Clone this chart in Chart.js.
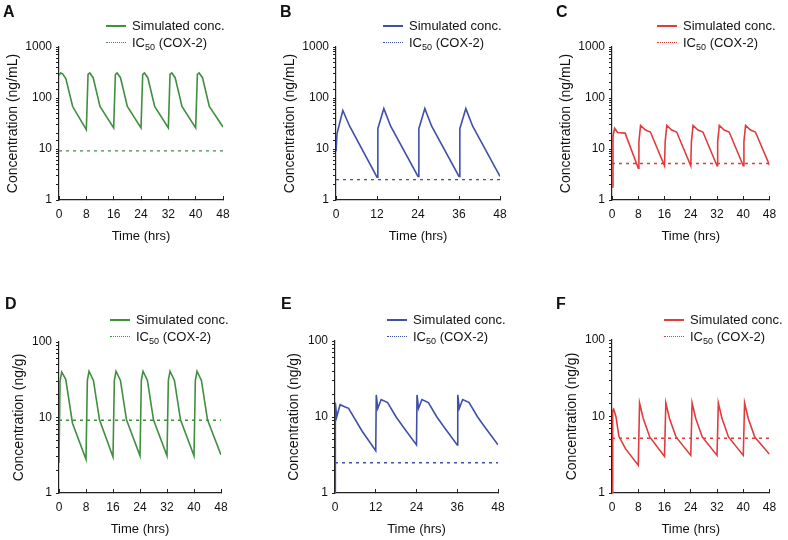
<!DOCTYPE html>
<html>
<head>
<meta charset="utf-8">
<script src="https://cdn.jsdelivr.net/npm/chart.js@4.4.1/dist/chart.umd.min.js"></script>
<style>
  html, body { margin: 0; padding: 0; background: #fff; }
  body { width: 788px; height: 540px; position: relative; overflow: hidden;
         font-family: "Liberation Sans", Arial, sans-serif; color: #111; }
  .panel { position: absolute; }
  .letter { position: absolute; font-weight: bold; font-size: 16px; line-height: 16px; }
  .leg { position: absolute; font-size: 13px; line-height: 16px; height: 16px; white-space: nowrap; }
  .leg .s { display: inline-block; width: 20px; height: 0; vertical-align: middle; margin-right: 6px; position: relative; top: -1px; }
  .leg sub { font-size: 9px; vertical-align: -3px; line-height: 0; }
</style>
</head>
<body>
<script>
// ---------------- data ----------------
const GREEN = '#3f8f3f', BLUE = '#4050a8', RED = '#e03c3c';

// Panel A (plasma, ng/mL, q8h)
const timeA = [0,0.5,1,2,4,8,8.5,9,10,12,16,16.5,17,18,20,24,24.5,25,26,28,32,32.5,33,34,36,40,40.5,41,42,44,48];
const concA = [280,310,300,240,68,24,290,310,250,68,26,290,310,250,68,26,290,310,250,68,26,290,310,250,68,26,290,310,250,68,27];
const ic50A = 9.2;

// Panel B (plasma, ng/mL, q12h)
const timeB = [0,0.3,2,4,12,12.25,14,16,24,24.25,26,28,36,36.25,38,40,48];
const concB = [9,20,57,28,2.8,25,62,28,2.9,25,62,28,2.9,25,62,28,2.9];
const ic50B = 2.5;

// Panel C (plasma, ng/mL, q8h)
const timeC = [0,0.3,0.8,1.7,4,8,8.2,8.7,10.2,11.7,16,16.2,16.7,18.2,19.7,24,24.2,24.7,26.2,27.7,32,32.2,32.7,34.2,35.7,40,40.2,40.7,42.2,43.7,48];
const concC = [1.8,18,25.5,21,20.5,4.2,14,29,23.5,21.5,4.7,14,29,23.5,21.5,4.7,14,29,23.5,21.5,4.7,14,29,23.5,21.5,4.7,14,29,23.5,21.5,4.8];
const ic50C = 5.2;

// Panel D (tissue, ng/g, q8h)
const timeD = [0,0.3,0.8,2,4,8,8.4,8.9,10.2,12,16,16.4,16.9,18.2,20,24,24.4,24.9,26.2,28,32,32.4,32.9,34.2,36,40,40.4,40.9,42.2,44,48];
const concD = [2.5,30,40,32,8.4,2.8,31,41,31,9.3,3.0,31,41,31,9.3,3.1,31,41,31,9.3,3.1,31,41,31,9.3,3.1,31,41,31,9.3,3.2];
const ic50D = 9.2;

// Panel E (tissue, ng/g, q12h)
const timeE = [0,0.1,0.5,1.5,3,4,8,12,12.15,12.6,13.6,15.5,18,20,24,24.15,24.6,25.6,27.5,30,32,36,36.15,36.6,37.6,39.5,42,44,48];
const concE = [1,15.5,10,14.5,13.5,13,6.5,3.6,19.5,13,17,15.5,10,7.5,4.3,19.5,13,17,15.5,10,7.5,4.3,19.5,13,17,15.5,10,7.5,4.3];
const ic50E = 2.5;

// Panel F (tissue, ng/g, q8h)
const timeF = [0,0.2,0.5,1.2,2.1,4.1,8,8.4,9.5,11.5,16,16.4,17.5,19.5,24,24.4,25.5,27.5,32,32.4,33.5,35.5,40,40.4,41.5,43.5,48];
const concF = [1,12,12.5,10,5.5,3.8,2.3,15,9.5,5.4,3.0,15,9.5,5.4,3.1,15,9.5,5.4,3.1,15,9.5,5.4,3.1,15,9.5,5.4,3.2];
const ic50F = 5.2;

const xTicksQ8 = [0,8,16,24,32,40,48];
const xTicksQ12 = [0,12,24,36,48];
const yTitlePlasma = 'Concentration (ng/mL)';
const yTitleTissue = 'Concentration (ng/g)';
const xTitle = 'Time (hrs)';
const legendLabels = ['Simulated conc.', 'IC', '50', ' (COX-2)'];

// ---------------- layout ----------------
const panels = [
  {id:'A', t:timeA, c:concA, ic:ic50A, col:GREEN, xt:xTicksQ8, ymax:1000, yt:yTitlePlasma,
   cx:0, cy:0, w:263, h:270, L:59, R:223, T:47, B:200, tc:13, xtc:236.5, legX:106, legY:26, legGap:17, letX:3, letY:4},
  {id:'B', t:timeB, c:concB, ic:ic50B, col:BLUE, xt:xTicksQ12, ymax:1000, yt:yTitlePlasma,
   cx:263, cy:0, w:263, h:270, L:336, R:500, T:47, B:200, tc:290, xtc:236.5, legX:383, legY:26, legGap:17, letX:280, letY:4},
  {id:'C', t:timeC, c:concC, ic:ic50C, col:RED, xt:xTicksQ8, ymax:1000, yt:yTitlePlasma,
   cx:526, cy:0, w:262, h:270, L:612, R:775, T:47, B:200, tc:566, xtc:236.5, legX:657, legY:26, legGap:17, letX:556, letY:4},
  {id:'D', t:timeD, c:concD, ic:ic50D, col:GREEN, xt:xTicksQ8, ymax:100, yt:yTitleTissue,
   cx:0, cy:270, w:263, h:270, L:59, R:221, T:342, B:493, tc:19.5, xtc:529, legX:110, legY:320, legGap:16.5, letX:5, letY:296},
  {id:'E', t:timeE, c:concE, ic:ic50E, col:BLUE, xt:xTicksQ12, ymax:100, yt:yTitleTissue,
   cx:263, cy:270, w:263, h:270, L:335, R:498, T:341, B:493, tc:294.5, xtc:529, legX:387, legY:320, legGap:16.5, letX:281, letY:296},
  {id:'F', t:timeF, c:concF, ic:ic50F, col:RED, xt:xTicksQ8, ymax:100, yt:yTitleTissue,
   cx:526, cy:270, w:262, h:270, L:612, R:776, T:340, B:493, tc:572, xtc:529, legX:664, legY:320, legGap:16.5, letX:556, letY:296}
];

const FONT = '"Liberation Sans", Arial, sans-serif';
const TXT = '#111';
const AX = '#222';
Chart.defaults.font.family = FONT;
Chart.defaults.color = TXT;

panels.forEach(p => {
  const wrap = document.createElement('div');
  wrap.className = 'panel';
  wrap.style.left = p.cx + 'px'; wrap.style.top = p.cy + 'px';
  wrap.style.width = p.w + 'px'; wrap.style.height = p.h + 'px';
  const cv = document.createElement('canvas');
  cv.width = p.w; cv.height = p.h;
  cv.style.width = p.w + 'px'; cv.style.height = p.h + 'px';
  wrap.appendChild(cv);
  document.body.appendChild(wrap);

  const let_ = document.createElement('div');
  let_.className = 'letter';
  let_.style.left = p.letX + 'px'; let_.style.top = p.letY + 'px';
  let_.textContent = p.id;
  document.body.appendChild(let_);

  const r1 = document.createElement('div');
  r1.className = 'leg';
  r1.style.left = p.legX + 'px'; r1.style.top = (p.legY - 8) + 'px';
  r1.innerHTML = '<span class="s" style="border-top:2px solid ' + p.col + '"></span>' + legendLabels[0];
  document.body.appendChild(r1);
  const r2 = document.createElement('div');
  r2.className = 'leg';
  r2.style.left = p.legX + 'px'; r2.style.top = (p.legY + p.legGap - 8) + 'px';
  r2.innerHTML = '<span class="s" style="border-top:1.5px dotted ' + p.col + '"></span>' + legendLabels[1] + '<sub>' + legendLabels[2] + '</sub>' + legendLabels[3];
  document.body.appendChild(r2);

  const yLineH = 14 * 1.2, xLineH = 13 * 1.2;
  const plotL = p.L - p.cx, plotR = p.R - p.cx, plotT = p.T - p.cy, plotB = p.B - p.cy;
  const padL = (p.tc - p.cx) - yLineH / 2;
  const xTitlePadBottom = p.h - (p.xtc - p.cy) - xLineH / 2;

  const series = p.t.map((tv, i) => ({x: tv, y: p.c[i]}));
  const icLine = [{x: 0, y: p.ic}, {x: 48, y: p.ic}];

  new Chart(cv, {
    type: 'line',
    data: {
      datasets: [
        {data: series, borderColor: p.col, borderWidth: 1.6, pointRadius: 0, tension: 0, fill: false},
        {data: icLine, borderColor: p.col, borderWidth: 1.3, borderDash: [3, 4], pointRadius: 0, tension: 0, fill: false}
      ]
    },
    options: {
      responsive: false,
      animation: false,
      devicePixelRatio: 1,
      layout: {padding: {left: padL, top: plotT, right: p.w - plotR, bottom: 0}},
      plugins: {legend: {display: false}, tooltip: {enabled: false}},
      scales: {
        x: {
          type: 'linear', min: 0, max: 48,
          afterBuildTicks: s => { s.ticks = p.xt.map(v => ({value: v})); },
          ticks: {autoSkip: false, maxRotation: 0, padding: 11.8, color: TXT, font: {size: 12}},
          grid: {drawOnChartArea: false, tickLength: -4, color: AX, tickWidth: 1},
          border: {color: AX, width: 1.2},
          title: {display: true, text: xTitle, color: TXT, font: {size: 13}, padding: {top: 0, bottom: xTitlePadBottom}},
          afterFit: s => { s.height = p.h - plotB; }
        },
        y: {
          type: 'logarithmic', min: 1, max: p.ymax,
          ticks: {
            autoSkip: false, padding: 4, color: TXT, font: {size: 12},
            callback: v => { const l = Math.log10(v); return Math.abs(l - Math.round(l)) < 1e-9 ? String(Math.round(v)) : ''; }
          },
          grid: {drawOnChartArea: false, tickLength: 3, color: AX, tickWidth: 1},
          border: {color: AX, width: 1.2},
          title: {display: true, text: p.yt, color: TXT, font: {size: 14}, padding: {top: 0, bottom: 0}},
          afterFit: s => { s.width = plotL - padL; }
        }
      }
    }
  });
});
</script>
</body>
</html>
